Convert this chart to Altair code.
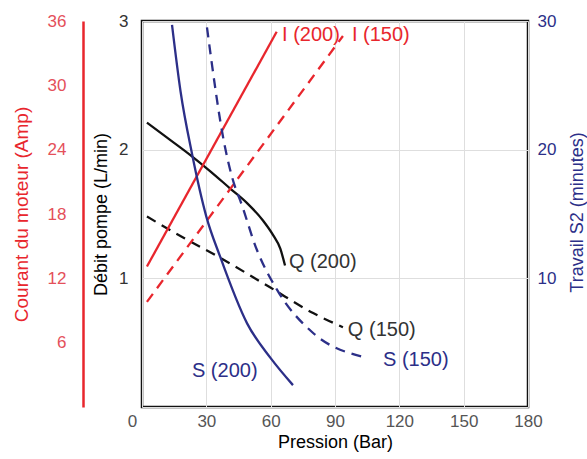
import altair as alt
import pandas as pd

FONT = "Liberation Sans, Arial, sans-serif"

# ---- data ----
# Débit pompe Q (L/min) vs pression (bar)
q200_x = [2.3, 12.0, 22.4, 32.0, 41.0, 49.0, 56.4, 61.0, 64.5, 66.7]
q200_y = [2.21, 2.09, 1.96, 1.83, 1.70, 1.585, 1.45, 1.34, 1.23, 1.10]
q150_x = [2.3, 20.0, 36.4, 59.7, 79.8, 93.7]
q150_y = [1.48, 1.31, 1.16, 0.93, 0.73, 0.62]

# Courant du moteur I (Amp)
i200_x = [2.3, 62.8]
i200_y = [13.1, 35.0]
i150_x = [2.3, 93.7]
i150_y = [9.8, 34.6]

# Travail S2 (minutes)
s200_x = [14.0, 18.0, 23.3, 30.0, 36.4, 49.0, 60.0, 70.4]
s200_y = [29.7, 24.5, 19.7, 14.8, 11.7, 6.5, 3.8, 1.7]
s150_x = [30.3, 38.7, 43.4, 45.7, 53.6, 63.0, 79.8, 103.0]
s150_y = [29.5, 20.2, 17.1, 16.1, 12.2, 9.1, 5.75, 3.9]

# annotations
q_lab = ["Q (200)", "Q (150)"]
q_lab_x = [68.5, 96.0]
q_lab_y = [1.127, 0.598]
i_lab = ["I (200)", "I (150)"]
i_lab_x = [65.3, 97.9]
i_lab_y = [34.7, 34.7]
s_lab = ["S (200)", "S (150)"]
s_lab_x = [23.3, 112.4]
s_lab_y = [2.8, 3.65]

x_ticks = [0, 30, 60, 90, 120, 150, 180]
q_ticks = [0, 0.5, 1, 1.5, 2, 2.5, 3]
i_ticks = [6, 12, 18, 24, 30, 36]
s_ticks = [10, 20, 30]

RED = "#e8262d"
RED_LAB = "#e4505a"
NAVY = "#2c2f88"
BLACK = "#111111"


def df(xs, ys):
    return pd.DataFrame({"x": xs, "y": ys})


def lab(xs, ys, ts):
    return pd.DataFrame({"x": xs, "y": ys, "t": ts})


X = alt.X("x:Q", scale=alt.Scale(domain=[0, 180], nice=False, zero=False),
          axis=alt.Axis(values=x_ticks, title="Pression (Bar)", grid=True,
                        gridColor="#dedede", gridWidth=1, ticks=False, domain=False,
                        labelFlush=False,
                        labelOffset={"condition": {"test": "datum.value == 0", "value": -10},
                                     "value": 0},
                        labelFont=FONT, labelFontSize=17, labelColor="#555555",
                        labelPadding=6,
                        titleFont=FONT, titleFontSize=18, titleFontWeight="normal",
                        titleColor="#000000", titlePadding=4))

# ---- Q layer ----
YQ = alt.Y("y:Q", scale=alt.Scale(domain=[0, 3], nice=False, zero=False),
           axis=alt.Axis(values=q_ticks, title="Débit pompe (L/min)", grid=True,
                         gridColor="#dedede", gridWidth=1, ticks=False, domain=False,
                         format="d", labelFlush=False,
                         labelExpr="datum.value % 1 == 0 && datum.value > 0 ? datum.label : ''",
                         labelFont=FONT, labelFontSize=17, labelColor="#333333",
                         labelPadding=14, titleFont=FONT, titleFontSize=18,
                         titleFontWeight="normal", titleColor="#000000", titlePadding=8))

q200 = alt.Chart(df(q200_x, q200_y)).mark_line(
    color=BLACK, strokeWidth=2.3, interpolate="monotone").encode(x=X, y=YQ)
q150 = alt.Chart(df(q150_x, q150_y)).mark_line(
    color=BLACK, strokeWidth=2.3, strokeDash=[10, 7], interpolate="monotone").encode(x=X, y=YQ)
qtext = alt.Chart(lab(q_lab_x, q_lab_y, q_lab)).mark_text(
    align="left", baseline="middle", font=FONT, fontSize=20, color="#333333").encode(
    x=X, y=YQ, text="t:N")
layer_q = alt.layer(q200, q150, qtext)

# ---- I layer ----
YI = alt.Y("y:Q", scale=alt.Scale(domain=[0, 36], nice=False, zero=False),
           axis=alt.Axis(orient="left", offset=59, values=i_ticks,
                         title="Courant du moteur (Amp)", grid=False, ticks=False,
                         domain=True, domainColor=RED, domainWidth=2.5, labelFlush=False,
                         labelFont=FONT, labelFontSize=17, labelColor=RED_LAB,
                         labelPadding=17, titleFont=FONT, titleFontSize=19,
                         titleFontWeight="normal", titleColor=RED, titlePadding=16))

i200 = alt.Chart(df(i200_x, i200_y)).mark_line(
    color=RED, strokeWidth=2.3).encode(x=X, y=YI)
i150 = alt.Chart(df(i150_x, i150_y)).mark_line(
    color=RED, strokeWidth=2.3, strokeDash=[10, 7]).encode(x=X, y=YI)
itext = alt.Chart(lab(i_lab_x, i_lab_y, i_lab)).mark_text(
    align="left", baseline="middle", font=FONT, fontSize=20, color=RED).encode(
    x=X, y=YI, text="t:N")
layer_i = alt.layer(i200, i150, itext)

# ---- S layer ----
YS = alt.Y("y:Q", scale=alt.Scale(domain=[0, 30], nice=False, zero=False),
           axis=alt.Axis(orient="right", values=s_ticks, title="Travail S2 (minutes)",
                         grid=False, ticks=False, domain=False, labelFlush=False,
                         labelFont=FONT, labelFontSize=17, labelColor=NAVY,
                         labelPadding=9, titleFont=FONT, titleFontSize=18,
                         titleFontWeight="normal", titleColor=NAVY, titleAngle=270,
                         titleX=49, titleY=191, titleAlign="center", titleBaseline="middle"))

s200 = alt.Chart(df(s200_x, s200_y)).mark_line(
    color=NAVY, strokeWidth=2.3, interpolate="monotone").encode(x=X, y=YS)
s150 = alt.Chart(df(s150_x, s150_y)).mark_line(
    color=NAVY, strokeWidth=2.3, strokeDash=[10, 7], interpolate="monotone").encode(x=X, y=YS)
stext = alt.Chart(lab(s_lab_x, s_lab_y, s_lab)).mark_text(
    align="left", baseline="middle", font=FONT, fontSize=20, color=NAVY).encode(
    x=X, y=YS, text="t:N")
layer_s = alt.layer(s200, s150, stext)

chart = alt.layer(layer_q, layer_i, layer_s).resolve_scale(y="independent").properties(
    width=386, height=386,
    padding={"left": 142, "top": 21, "right": 59, "bottom": 52},
    autosize=alt.AutoSizeParams(type="none"),
    background="white",
).configure_view(stroke="#111111", strokeWidth=2.5)

chart.save("out.html", embed_options={"renderer": "svg", "actions": False})
